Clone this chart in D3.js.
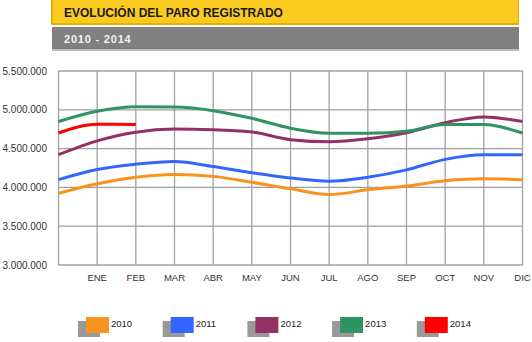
<!DOCTYPE html>
<html><head><meta charset="utf-8">
<script src="https://cdn.jsdelivr.net/npm/d3@7"></script>
<style>html,body{margin:0;padding:0;background:#fff;}svg{display:block;}</style>
</head><body>
<svg id="c" width="532" height="342"></svg>
<script>
const title = "EVOLUCIÓN DEL PARO REGISTRADO";
const subtitle = "2010 - 2014";
const months = ["", "ENE","FEB","MAR","ABR","MAY","JUN","JUL","AGO","SEP","OCT","NOV","DIC"];
const yTicks = [3000000, 3500000, 4000000, 4500000, 5000000, 5500000];
const years = ["2010","2011","2012","2013","2014"];
const colors = ["#F7941D","#3366FF","#953064","#2E9462","#FF0000"];
const s2010 = [3924, 4048, 4130, 4166, 4142, 4066, 3982, 3908, 3969, 4017, 4085, 4110, 4100];
const s2011 = [4100, 4231, 4299, 4334, 4269, 4190, 4122, 4080, 4131, 4226, 4361, 4420, 4422];
const s2012 = [4422, 4600, 4712, 4751, 4744, 4714, 4615, 4587, 4626, 4705, 4834, 4908, 4849];
const s2013 = [4849, 4981, 5040, 5035, 4989, 4890, 4763, 4698, 4699, 4724, 4811, 4809, 4701];
const s2014 = [4701, 4814, 4812];
const series = [s2010, s2011, s2012, s2013, s2014];

const svg = d3.select("#c");
const L = 58.5, R = 522.5, T = 71, B = 265;
const x = d3.scaleLinear().domain([0, 12]).range([L, R]);
const y = d3.scaleLinear().domain([3000000, 5500000]).range([B, T]);
const fmt = v => d3.format(",")(v).replace(/,/g, ".");

// header
svg.append("rect").attr("x",51).attr("y",0).attr("width",468).attr("height",25).attr("fill","#E8AE00");
svg.append("rect").attr("x",53).attr("y",0).attr("width",465).attr("height",23).attr("fill","#FCCB22");
svg.append("text").attr("x",64).attr("y",17).attr("font-family","Liberation Sans, Arial, sans-serif")
  .attr("font-size",12).attr("font-weight","bold").attr("fill","#1a1a1a").text(title);
svg.append("rect").attr("x",52).attr("y",27).attr("width",467).attr("height",24).attr("fill","#BDBDBD");
svg.append("rect").attr("x",52).attr("y",27).attr("width",467).attr("height",22).attr("fill","#808080");
svg.append("text").attr("x",64).attr("y",43).attr("font-family","Liberation Sans, Arial, sans-serif")
  .attr("font-size",11).attr("font-weight","bold").attr("fill","#f2f2f2").attr("letter-spacing",0.8).text(subtitle);

// grid
const g = svg.append("g");
g.selectAll("line.h").data(yTicks).join("line").attr("class","h")
  .attr("x1",L).attr("x2",R).attr("y1",d=>y(d)).attr("y2",d=>y(d))
  .attr("stroke","#a0a0a0").attr("stroke-width",1.3);
g.selectAll("line.v").data(d3.range(13)).join("line").attr("class","v")
  .attr("x1",d=>x(d)).attr("x2",d=>x(d)).attr("y1",T).attr("y2",B)
  .attr("stroke","#a0a0a0").attr("stroke-width",1.3);

// y labels
g.selectAll("text.yl").data(yTicks).join("text").attr("class","yl")
  .attr("x",47).attr("y",d=>y(d)+3.5).attr("text-anchor","end")
  .attr("font-family","Liberation Sans, Arial, sans-serif").attr("font-size",10).attr("fill","#333")
  .text(fmt);
// x labels
g.selectAll("text.xl").data(months).join("text").attr("class","xl")
  .attr("x",(d,i)=>x(i)).attr("y",281).attr("text-anchor","middle")
  .attr("font-family","Liberation Sans, Arial, sans-serif").attr("font-size",9.5).attr("fill","#333")
  .text(d=>d);

// lines
const line = d3.line().x((d,i)=>x(i)).y(d=>y(d*1000)).curve(d3.curveMonotoneX);
svg.selectAll("path.s").data(series).join("path").attr("class","s")
  .attr("d",line).attr("fill","none").attr("stroke",(d,i)=>colors[i])
  .attr("stroke-width",3).attr("stroke-linejoin","round");

// legend
const lg = svg.selectAll("g.lg").data(years).join("g").attr("class","lg")
  .attr("transform",(d,i)=>`translate(${86 + i*84.7},317)`);
lg.append("rect").attr("x",-8).attr("y",4).attr("width",22).attr("height",16).attr("fill","#999");
lg.append("rect").attr("x",0).attr("y",0).attr("width",23).attr("height",16).attr("fill",(d,i)=>colors[i]);
lg.append("text").attr("x",25).attr("y",10).attr("font-family","Liberation Sans, Arial, sans-serif")
  .attr("font-size",9.5).attr("fill","#222").text(d=>d);
</script>
</body></html>
